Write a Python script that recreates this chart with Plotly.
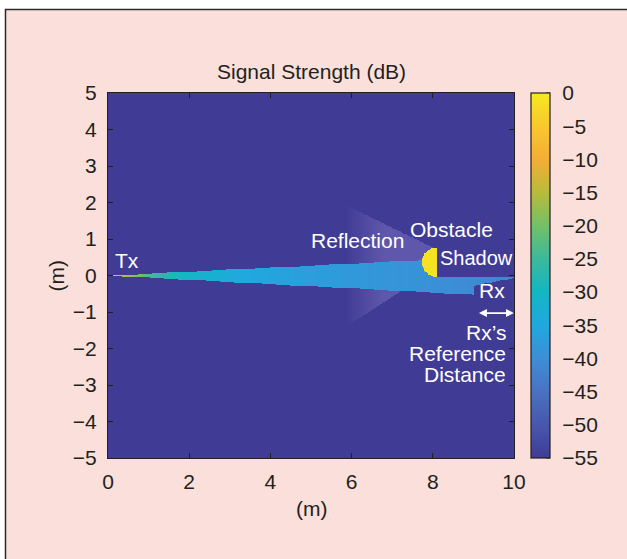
import numpy as np
import plotly.graph_objects as go

# ---------------- data ----------------
x_ticks = [0, 2, 4, 6, 8, 10]
y_ticks = [-5, -4, -3, -2, -1, 0, 1, 2, 3, 4, 5]
cbar_ticks = [0, -5, -10, -15, -20, -25, -30, -35, -40, -45, -50, -55]

background_db = -55.0
obstacle_db = -1.0
# main beam level vs distance from Tx (m -> dB)
beam_distance_m = [0.02, 0.25, 0.75, 1.5, 3.5, 7.5, 10.0]
beam_db = [-3.0, -10.0, -20.0, -28.0, -35.0, -39.0, -41.5]

# scene geometry (metres)
tx_pos = (0.0, 0.0)
beam_upper_slope = 0.055
beam_lower_slope = -0.058
obstacle_center = (8.1, 0.37)
obstacle_radius = (0.37, 0.40)
rx_x = 9.0
rx_step_lower = (-0.27, -0.07)   # lower edge of lit strip at x=9 and x=10
reflection_apex = (8.5, 0.5)
reflection_slopes = (-0.54, 0.72)  # upper, lower edge
reflection_fade = (5.85, 6.8)

# ---------------- field ----------------
xs = np.linspace(0, 10, 501)
ys = np.linspace(-5, 5, 501)
X, Y = np.meshgrid(xs, ys)
D = np.hypot(X - tx_pos[0], Y - tx_pos[1])
D = np.maximum(D, 1e-3)

field = np.full(X.shape, background_db)
beam_val = np.interp(np.log10(D), np.log10(beam_distance_m), beam_db)

ox, oy = obstacle_center
orx, ory = obstacle_radius
inside_obst = (((X - ox) / orx) ** 2 + ((Y - oy) / ory) ** 2 <= 1) & (X <= ox)
shadow_slope = (oy - ory) / ox

beam = (X > 0) & (Y <= beam_upper_slope * X) & (Y >= beam_lower_slope * X) & (X <= rx_x)
shadowed = (X > ox) & (Y > shadow_slope * X)
beam &= ~shadowed
step_low = rx_step_lower[0] + (rx_step_lower[1] - rx_step_lower[0]) * (X - rx_x) / (10 - rx_x)
beyond = (X > rx_x) & (Y <= shadow_slope * X) & (Y >= step_low)
lit = (beam | beyond) & ~inside_obst
field[lit] = beam_val[lit]
field[inside_obst] = obstacle_db

ax_, ay_ = reflection_apex
top = ay_ + reflection_slopes[0] * (X - ax_)
bot = ay_ + reflection_slopes[1] * (X - ax_)
refl = (X < ox) & (Y <= top) & (Y >= bot) & (X >= reflection_fade[0]) & ~lit & ~inside_obst
refl_z = np.full(X.shape, np.nan)
ramp = np.clip((X - reflection_fade[0]) / (reflection_fade[1] - reflection_fade[0]), 0, 1)
refl_z[refl] = ramp[refl]

colorscale = [
    [0.000, "#403C95"],
    [0.091, "#4757AC"],
    [0.182, "#4A72C2"],
    [0.273, "#3C8ED6"],
    [0.364, "#20A8DF"],
    [0.455, "#13B6C3"],
    [0.545, "#3CB89C"],
    [0.636, "#72C067"],
    [0.727, "#B8BB3B"],
    [0.818, "#F4AD36"],
    [0.909, "#F8C82E"],
    [1.000, "#F6E91F"],
]

font_family = "Liberation Sans, Arial, Helvetica, sans-serif"
dark = "#231F20"
fs = 21

# plot-area pixel geometry used for paper-coordinate placements
L, T, PW, PH = 108, 93, 406, 365
def px_to_paper_x(px):
    return (px - L) / PW
def px_to_paper_y(py):
    return (T + PH - py) / PH

cb_x = 1.042
cb_thick = 19

fig = go.Figure()
fig.add_trace(go.Heatmap(
    x=xs, y=ys, z=field, zmin=-55, zmax=0, colorscale=colorscale,
    zsmooth=False, hoverinfo="skip",
    colorbar=dict(
        x=cb_x, xanchor="left", xpad=0, y=0.5, yanchor="middle", len=1, lenmode="fraction",
        thickness=cb_thick, thicknessmode="pixels", ypad=0,
        outlinewidth=1.2, outlinecolor=dark,
        tickvals=cbar_ticks, ticks="outside", ticklen=8, tickcolor="rgba(0,0,0,0)",
        tickfont=dict(family=font_family, size=fs, color=dark),
    ),
))
fig.add_trace(go.Heatmap(
    x=xs, y=ys, z=refl_z, zmin=0, zmax=1,
    colorscale=[[0, "#403C95"], [1, "#5F57AB"]], showscale=False,
    zsmooth=False, hoverinfo="skip",
))

# small inward tick marks on the right edge of the colorbar
cb_right_px = L + cb_x * PW + cb_thick
for v in cbar_ticks:
    yp = (v + 55) / 55
    fig.add_shape(type="line", xref="paper", yref="paper",
                  x0=px_to_paper_x(cb_right_px - 4), x1=px_to_paper_x(cb_right_px),
                  y0=yp, y1=yp, line=dict(color=dark, width=1))

axis_common = dict(
    showgrid=False, zeroline=False, showline=True, linecolor=dark, linewidth=1.2,
    mirror="ticks", ticks="inside", ticklen=5, tickcolor=dark, tickwidth=1,
    tickfont=dict(family=font_family, size=fs, color=dark),
)
fig.update_xaxes(range=[0, 10], tickvals=x_ticks, ticklabelstandoff=5, **axis_common)
fig.update_yaxes(range=[-5, 5], tickvals=y_ticks, ticklabelstandoff=6, **axis_common)

white = dict(family=font_family, size=fs, color="white")
anns = [
    dict(x=0.12, y=0.40, text="Tx", xanchor="left"),
    dict(x=6.14, y=0.97, text="Reflection", xanchor="center"),
    dict(x=8.47, y=1.27, text="Obstacle", xanchor="center"),
    dict(x=8.12, y=0.48, text="Shadow", xanchor="left", font=dict(family=font_family, size=20, color="white")),
    dict(x=9.45, y=-0.42, text="Rx", xanchor="center"),
    dict(x=9.85, y=-1.55, text="Rx’s", xanchor="right", height=20),
    dict(x=9.85, y=-2.12, text="Reference", xanchor="right", height=20),
    dict(x=9.85, y=-2.70, text="Distance", xanchor="right", height=20),
]
for a in anns:
    a.setdefault("font", white)
    fig.add_annotation(xref="x", yref="y", showarrow=False, yanchor="middle", **a)

# double-headed arrow for the reference distance
fig.add_annotation(xref="x", yref="y", axref="x", ayref="y", x=10.0, y=-1.03, ax=9.1, ay=-1.03,
                   text="", showarrow=True, arrowhead=2, startarrowhead=2, arrowside="end+start",
                   arrowsize=1, startarrowsize=1, arrowwidth=1.6, arrowcolor="white",
                   standoff=0, startstandoff=0)

# titles
fig.add_annotation(xref="paper", yref="paper", x=0.5, y=px_to_paper_y(72), text="Signal Strength (dB)",
                   showarrow=False, xanchor="center", yanchor="middle",
                   font=dict(family=font_family, size=fs, color=dark))
fig.add_annotation(xref="paper", yref="paper", x=0.5, y=px_to_paper_y(508), text="(m)",
                   showarrow=False, xanchor="center", yanchor="middle",
                   font=dict(family=font_family, size=fs, color=dark))
fig.add_annotation(xref="paper", yref="paper", x=px_to_paper_x(56), y=0.5, text="(m)", textangle=-90,
                   showarrow=False, xanchor="center", yanchor="middle",
                   font=dict(family=font_family, size=fs, color=dark))

# framed pink panel
fig.add_shape(type="rect", xref="paper", yref="paper", layer="below",
              x0=px_to_paper_x(5.5), x1=px_to_paper_x(700),
              y0=px_to_paper_y(640), y1=px_to_paper_y(9.5),
              fillcolor="#FADFDA", line=dict(color="#2A2A2A", width=1.5))

fig.update_layout(
    width=627, height=559, autosize=False,
    margin=dict(l=L, r=627 - L - PW, t=T, b=559 - T - PH, pad=0),
    paper_bgcolor="white", plot_bgcolor="#403C95",
    showlegend=False,
    font=dict(family=font_family, size=fs, color=dark),
)

fig.write_html("out.html")
